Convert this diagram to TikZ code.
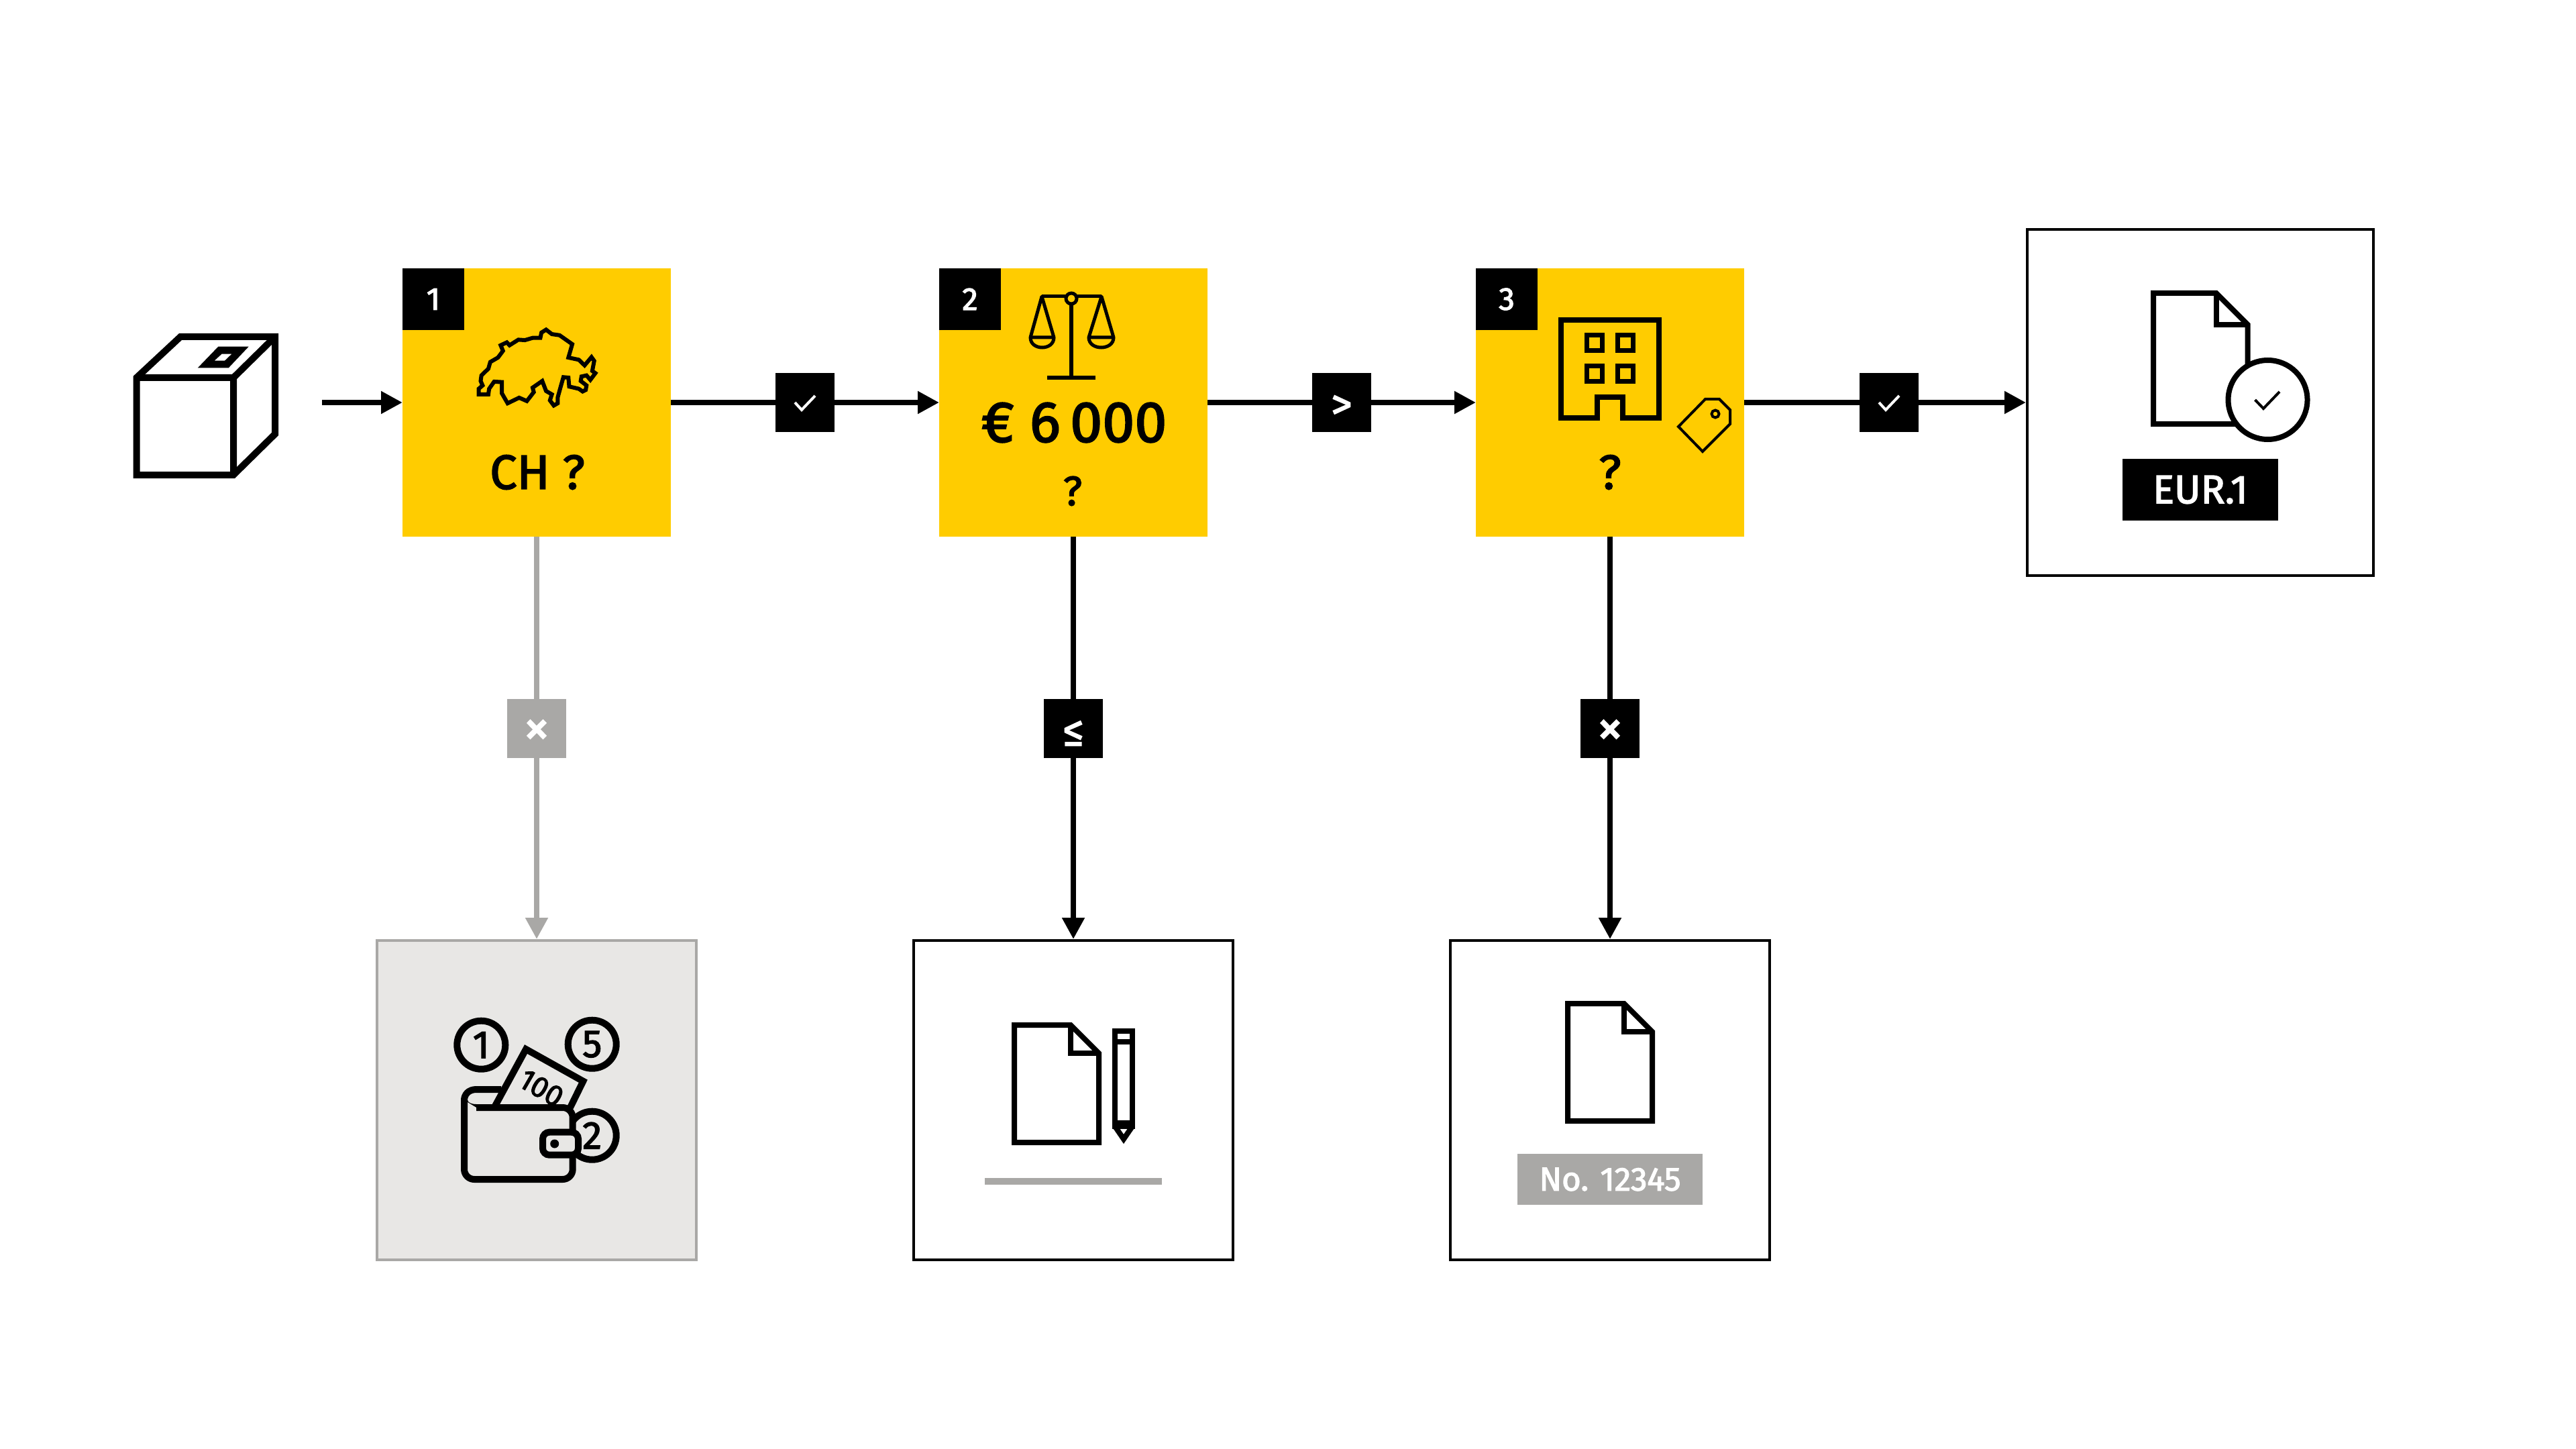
\documentclass[tikz,border=0pt]{standalone}
\usepackage{fontspec}
\setmainfont{Fira Sans}[BoldFont={Fira Sans},BoldFeatures={FakeBold=2.4}]
\usetikzlibrary{arrows.meta,positioning}
\definecolor{stepyellow}{RGB}{255,204,0}
\definecolor{midgray}{RGB}{169,168,166}
\definecolor{palegray}{RGB}{232,231,229}

\begin{document}
\begin{tikzpicture}[
  x=1cm, y=-1cm,
  node distance=4cm,
  stepbox/.style={rectangle, fill=stepyellow, minimum size=4cm, inner sep=0pt, outer sep=0pt},
  numtag/.style={rectangle, fill=black, text=white, minimum size=9.2mm, inner sep=0pt, outer sep=0pt, font=\fontsize{13.5}{15}\selectfont\bfseries},
  linktag/.style={rectangle, fill=black, text=white, minimum size=8.8mm, inner sep=0pt, font=\fontsize{18}{20}\selectfont\bfseries},
  endbox/.style={rectangle, draw=black, fill=white, line width=0.4mm, minimum size=4.76cm, inner sep=0pt},
  asktext/.style={font=\fontsize{20.5}{24}\selectfont\bfseries, inner sep=0pt},
  coin/.style={circle, draw=black, line width=1mm, minimum size=7.2mm, inner sep=0pt, font=\fontsize{16.5}{18}\selectfont\bfseries},
  arr/.style={-{Triangle[length=3.2mm,width=3.2mm]}, line width=0.8mm},
  icon/.style={draw=black, line width=0.8mm, line join=miter},
  thinicon/.style={draw=black, line width=0.5mm},
  docicon/.pic={
    \draw[icon, fill=white] (0,0) -- (0.84,0) -- (1.26,0.42) -- (1.26,1.75) -- (0,1.75) -- cycle;
    \draw[icon] (0.84,0) -- (0.84,0.42) -- (1.26,0.42);
  }
]
\useasboundingbox (0,0) rectangle (38.4,21.6);

% decision boxes
\node[stepbox] (stepa) at (8,6) {};
\node[stepbox, right=of stepa] (stepb) {};
\node[stepbox, right=of stepb] (stepc) {};
\node[numtag, anchor=north west] (numa) at (stepa.north west) {1};
\node[numtag, anchor=north west] (numb) at (stepb.north west) {2};
\node[numtag, anchor=north west] (numc) at (stepc.north west) {3};
\node[asktext] (aska) at (8.01,7.04) {CH ?};
\node[asktext, font=\fontsize{24.5}{28}\selectfont\bfseries] (amount) at (16.01,6.30) {€ 6\,000};
\node[asktext, font=\fontsize{17.5}{20}\selectfont\bfseries] (askb) at (15.99,7.32) {?};
\node[asktext] (askc) at (24,7.04) {?};

% outcome boxes
\node[endbox, fill=palegray, draw=midgray, below=6cm of stepa] (enda) {};
\node[endbox, below=6cm of stepb] (endb) {};
\node[endbox, below=6cm of stepc] (endc) {};
\node[endbox, minimum size=5.16cm, right=4.2cm of stepc] (endd) {};

% connectors
\coordinate (start) at (4.8,6);
\draw[arr] (start) -- (stepa);
\draw[arr] (stepa) -- node[linktag] (linka) {} (stepb);
\draw[arr] (stepb) -- node[linktag] (linkb) {\raisebox{-0.7mm}[\height][\depth]{>}} (stepc);
\draw[arr] (stepc) -- node[linktag, pos=0.514] (linkc) {} (endd);
\draw[arr, draw=midgray, color=midgray] (stepa) -- node[linktag, fill=midgray, pos=0.477, font=\fontsize{22}{24}\selectfont\bfseries] (linkd) {\raisebox{-0.6mm}[\height][\depth]{×}} (enda);
\draw[arr] (stepb) -- node[linktag, pos=0.477] (linke) {\raisebox{-0.7mm}[\height][\depth]{≤}} (endb);
\draw[arr] (stepc) -- node[linktag, pos=0.477, font=\fontsize{22}{24}\selectfont\bfseries] (linkf) {\raisebox{-0.6mm}[\height][\depth]{×}} (endc);
\draw[white, line width=0.4mm] (11.85,6.00) -- (11.95,6.11) -- (12.15,5.90);
\draw[white, line width=0.4mm] (28.01,6.00) -- (28.11,6.11) -- (28.31,5.90);

% parcel
\draw[line width=1mm, line join=miter] (2.035,5.63) -- (2.69,5.02) -- (4.10,5.02) -- (4.10,6.47) -- (3.48,7.08) -- (2.035,7.08) -- cycle;
\draw[line width=1mm, line join=miter] (2.035,5.63) -- (3.48,5.63) -- (4.10,5.02) (3.48,5.63) -- (3.48,7.08);
\fill[even odd rule] (3.253,5.167) -- (3.707,5.167) -- (3.408,5.483) -- (2.949,5.483) -- cycle
  (3.305,5.277) -- (3.454,5.277) -- (3.35,5.377) -- (3.196,5.377) -- cycle;

% swiss outline
\begin{scope}[shift={(1.6,3.8)}, x=0.00574cm, y=-0.00333cm]
\draw[line width=0.6mm, line join=miter] (1140,335) -- (1155,355) -- (1175,360) -- (1208,400) -- (1198,460) -- (1225,470) -- (1240,495) -- (1258,458) -- (1265,475) -- (1260,520) -- (1268,530) -- (1255,560) -- (1245,540) -- (1232,545) -- (1230,565) -- (1245,585) -- (1243,605) -- (1235,612) -- (1225,600) -- (1200,590) -- (1198,550) -- (1185,548) -- (1178,590) -- (1170,640) -- (1170,665) -- (1160,675) -- (1150,652) -- (1155,625) -- (1140,610) -- (1130,565) -- (1105,595) -- (1108,615) -- (1090,655) -- (1070,640) -- (1040,665) -- (1025,620) -- (1025,570) -- (1005,568) -- (992,600) -- (990,625) -- (965,625) -- (965,600) -- (975,585) -- (970,565) -- (972,540) -- (990,510) -- (995,480) -- (1015,460) -- (1028,430) -- (1022,405) -- (1038,392) -- (1045,405) -- (1068,380) -- (1085,382) -- (1105,372) -- (1125,372) -- (1128,348) -- cycle;
\end{scope}

% scales
\draw[line width=0.6mm] (15.97,4.45) -- (15.97,5.63);
\fill (15.61,5.60) rectangle (16.33,5.66);
\draw[thinicon] (15.53,4.42) -- (16.42,4.42);
\draw[thinicon, line join=round] (15.36,5.03) -- (15.53,4.42) -- (15.71,5.03) -- cycle;
\draw[thinicon, line join=round] (16.23,5.03) -- (16.42,4.42) -- (16.60,5.03) -- cycle;
\draw[thinicon] (15.36,5.03) .. controls (15.36,5.23) and (15.71,5.23) .. (15.71,5.03);
\draw[thinicon] (16.23,5.03) .. controls (16.23,5.23) and (16.60,5.23) .. (16.60,5.03);
\draw[thinicon, fill=stepyellow] (15.97,4.45) circle (0.08);

% building and price tag
\draw[icon] (23.27,4.77) -- (24.73,4.77) -- (24.73,6.23) -- (24.19,6.23) -- (24.19,5.92) -- (23.81,5.92) -- (23.81,6.23) -- (23.27,6.23) -- cycle;
\foreach \wx in {23.65,24.11} \foreach \wy in {5.00,5.46}
  \draw[draw=black, line width=0.7mm] (\wx,\wy) rectangle ++(0.235,0.23);
\draw[draw=black, line width=0.4mm, line join=miter] (25.02,6.36) -- (25.42,5.95) -- (25.63,5.95) -- (25.79,6.11) -- (25.79,6.32) -- (25.38,6.73) -- cycle;
\draw[draw=black, line width=0.4mm] (25.57,6.17) circle (0.055);

% certificate
\path (32.10,4.37) pic[scale=1.115] {docicon};
\node[circle, draw=black, fill=white, line width=0.8mm, minimum size=11.8mm, inner sep=0pt] (seal) at (33.805,5.96) {};
\draw[draw=black, line width=0.4mm] (33.615,5.96) -- (33.74,6.09) -- (33.98,5.84);
\node[rectangle, fill=black, text=white, minimum width=23.2mm, minimum height=9.2mm, inner sep=0pt, font=\fontsize{17}{20}\selectfont\bfseries] (eurlabel) at (32.8,7.30) {EUR.1};

% coins and wallet
\node[coin] (coina) at (7.173,15.577) {1};
\node[coin] (coinb) at (8.827,15.567) {5};
\node[coin] (coinc) at (8.827,16.927) {2};
\draw[line width=1mm, line join=round] (7.47,16.24) -- (7.10,16.24) .. controls (6.98,16.24) and (6.92,16.32) .. (6.92,16.40) .. controls (6.92,16.45) and (6.98,16.51) .. (7.10,16.51);
\draw[line width=1mm, fill=palegray, line join=miter] (7.367,16.51) -- (7.84,15.64) -- (8.693,16.117) -- (8.50,16.51);
\node[rotate=-30, inner sep=0pt, font=\fontsize{12.5}{14}\selectfont\bfseries] (notesum) at (8.07,16.22) {100};
\draw[line width=1mm, fill=palegray, rounded corners=1.5mm] (6.92,16.40) -- (6.92,17.58) -- (8.537,17.58) -- (8.537,16.51) -- (7.10,16.51);
\draw[line width=1mm, fill=palegray, rounded corners=1mm] (8.09,16.877) rectangle (8.62,17.217);
\fill (8.267,17.05) circle (0.065);

% form and pencil
\path (15.12,15.28) pic {docicon};
\draw[icon] (16.62,15.37) rectangle (16.88,16.79);
\draw[icon] (16.62,15.53) -- (16.88,15.53);
\draw[icon] (16.62,16.74) -- (16.88,16.74);
\draw[icon] (16.62,16.79) -- (16.75,16.98) -- (16.88,16.79);
\fill[midgray] (14.68,17.56) rectangle (17.32,17.66);

% numbered document
\path (23.37,14.96) pic {docicon};
\node[rectangle, fill=midgray, text=white, minimum width=27.6mm, minimum height=7.6mm, inner sep=0pt, font=\fontsize{14}{16}\selectfont\bfseries] (numlabel) at (24,17.58) {No. 12345};
\end{tikzpicture}
\end{document}
